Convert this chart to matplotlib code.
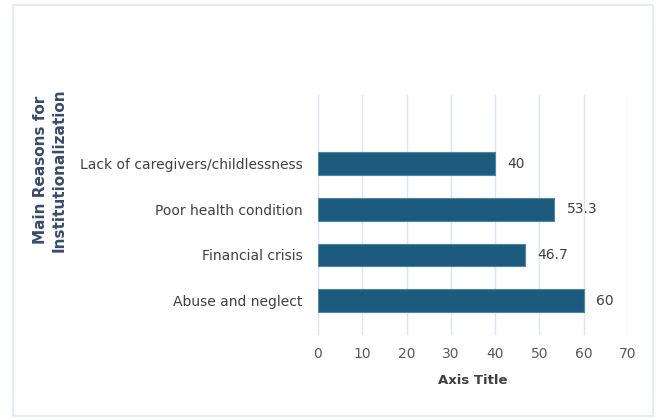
import matplotlib.pyplot as plt
from matplotlib.patches import Rectangle

# Data
reasons = ["Abuse and neglect", "Financial crisis", "Poor health condition",
           "Lack of caregivers/childlessness"]
percent = [60, 46.7, 53.3, 40]
value_labels = ["60", "46.7", "53.3", "40"]
x_ticks = [0, 10, 20, 30, 40, 50, 60, 70]

fig = plt.figure(figsize=(6.58, 4.2), dpi=100)
fig.patch.set_facecolor("white")

# light frame around the chart area
fig.patches.append(Rectangle((13 / 658, 4 / 420), 640 / 658, 411 / 420,
                             transform=fig.transFigure, fill=False,
                             edgecolor="#e6ebf3", linewidth=1.5))

ax = fig.add_axes([318 / 658, 85 / 420, 310 / 658, 240 / 420])

pos = list(range(len(reasons)))
ax.barh(pos, percent, height=0.5, color="#1d5b7e", edgecolor="#4f86a6",
        linewidth=0.8, zorder=3)

for p, v, lab in zip(pos, percent, value_labels):
    ax.text(v + 2.8, p, lab, va="center", ha="left", fontsize=10,
            color="#404040")

ax.set_xlim(0, 70)
ax.set_ylim(-0.75, 4.5)
ax.set_xticks(x_ticks)
ax.set_xticklabels([str(t) for t in x_ticks], fontsize=10, color="#595959")
ax.set_yticks(pos)
ax.set_yticklabels(reasons, fontsize=10, color="#404040")
ax.tick_params(axis="x", length=0, pad=9)
ax.tick_params(axis="y", length=0, pad=11)

ax.grid(axis="x", color="#dfe5f0", linewidth=1, zorder=0)
for s in ax.spines.values():
    s.set_visible(False)

ax.set_xlabel("Axis Title", fontsize=9.5, fontweight="bold", color="#404040",
              labelpad=9)

fig.text(50 / 658, (420 - 170) / 420, "Main Reasons for\nInstitutionalization",
         rotation=90, ha="center", va="center", fontsize=11,
         fontweight="bold", color="#3b4a68", linespacing=1.3)

fig.savefig("out.png", dpi=100)
